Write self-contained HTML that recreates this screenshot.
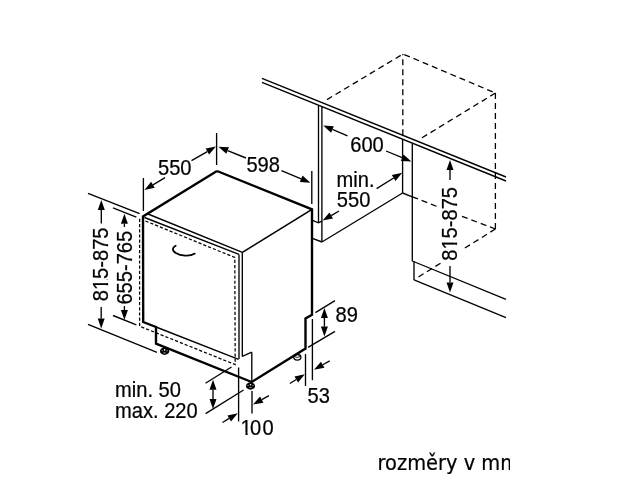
<!DOCTYPE html>
<html><head><meta charset="utf-8"><title>rozměry v mm</title>
<style>html,body{margin:0;padding:0;background:#fff}svg{display:block}</style></head>
<body><svg width="630" height="481" viewBox="0 0 630 481">
<rect width="630" height="481" fill="#fff"/>
<g opacity="0.999">
<line x1="148" y1="214" x2="242.4" y2="252.4" stroke="#000" stroke-width="1.35" stroke-linecap="butt"/>
<line x1="144.5" y1="217.5" x2="239" y2="254.4" stroke="#000" stroke-width="1.35" stroke-linecap="butt"/>
<line x1="312" y1="209.4" x2="242.4" y2="252.4" stroke="#000" stroke-width="1.6500000000000001" stroke-linecap="butt"/>
<line x1="239" y1="254.4" x2="239" y2="359" stroke="#000" stroke-width="1.35" stroke-linecap="butt"/>
<line x1="242.3" y1="252.4" x2="242.3" y2="356.4" stroke="#000" stroke-width="1.35" stroke-linecap="butt"/>
<polyline points="145.5,221.0 234.8,257.5 235.2,364.6 139.6,326.2 139.6,218" fill="none" stroke="#000" stroke-width="1.25" stroke-linejoin="miter" stroke-linecap="butt" stroke-dasharray="3.2 2"/>
<line x1="156" y1="327" x2="238.6" y2="359.4" stroke="#000" stroke-width="1.35" stroke-linecap="butt"/>
<line x1="242.3" y1="356.4" x2="251.8" y2="352.2" stroke="#000" stroke-width="1.35" stroke-linecap="butt"/>
<line x1="251.8" y1="352.2" x2="251.8" y2="382" stroke="#000" stroke-width="1.35" stroke-linecap="butt"/>
<ellipse cx="164.6" cy="351.2" rx="4.6" ry="3.7" fill="#000"/>
<circle cx="164.6" cy="349.9" r="0.8" fill="#fff"/>
<circle cx="162.1" cy="350.7" r="0.5" fill="#fff"/>
<circle cx="167.1" cy="350.7" r="0.5" fill="#fff"/>
<ellipse cx="164.6" cy="352.9" rx="1.8" ry="0.3" fill="#fff"/>
<ellipse cx="250.5" cy="386" rx="4.6" ry="3.7" fill="#000"/>
<circle cx="250.5" cy="384.7" r="0.8" fill="#fff"/>
<circle cx="248.0" cy="385.5" r="0.5" fill="#fff"/>
<circle cx="253.0" cy="385.5" r="0.5" fill="#fff"/>
<ellipse cx="250.5" cy="387.7" rx="1.8" ry="0.3" fill="#fff"/>
<ellipse cx="297.3" cy="357.3" rx="3.6" ry="2.8" fill="#fff" stroke="#000" stroke-width="1.3"/>
<path d="M294.4,356.6 Q297.3,358.4 300.3,356.4" fill="none" stroke="#000" stroke-width="0.9"/>
<polyline points="217,171 143,216.5 143.2,322 156,327 156,343.6 251.7,382 305.5,348.6 305.5,318.4 312,314.8 312,209.4 217,171" fill="none" stroke="#000" stroke-width="2.4" stroke-linejoin="miter" stroke-linecap="butt"/>
<path d="M175.7,245.7 C172.2,247.4 171.6,250.4 175.8,253 C180.6,256 189.6,256.9 194.8,253.6" fill="none" stroke="#000" stroke-width="1.75" stroke-linecap="round"/>
<line x1="143.4" y1="178" x2="143.4" y2="211" stroke="#000" stroke-width="1.35" stroke-linecap="butt"/>
<line x1="216.6" y1="133" x2="216.6" y2="165" stroke="#000" stroke-width="1.35" stroke-linecap="butt"/>
<polygon points="144.40,190.00 151.16,181.84 154.77,187.84" fill="#000"/>
<line x1="165" y1="177.6" x2="152.97" y2="184.84" stroke="#000" stroke-width="1.35" stroke-linecap="butt"/>
<polygon points="216.00,146.60 209.05,154.60 205.58,148.52" fill="#000"/>
<line x1="191.5" y1="160.6" x2="207.32" y2="151.56" stroke="#000" stroke-width="1.35" stroke-linecap="butt"/>
<text transform="translate(158 174.6) scale(0.932 1)" font-family="&quot;Liberation Sans&quot;, Arial, sans-serif" font-size="21.6" text-anchor="start" fill="#000" stroke="#000" stroke-width="0.25">550</text>
<line x1="311.8" y1="171" x2="311.8" y2="204" stroke="#000" stroke-width="1.35" stroke-linecap="butt"/>
<polygon points="218.40,146.80 228.98,147.32 226.35,153.80" fill="#000"/>
<line x1="246" y1="158" x2="227.67" y2="150.56" stroke="#000" stroke-width="1.35" stroke-linecap="butt"/>
<polygon points="310.40,182.70 299.82,182.08 302.52,175.62" fill="#000"/>
<line x1="281.4" y1="170.6" x2="301.17" y2="178.85" stroke="#000" stroke-width="1.35" stroke-linecap="butt"/>
<text transform="translate(246.4 172) scale(0.932 1)" font-family="&quot;Liberation Sans&quot;, Arial, sans-serif" font-size="21.6" text-anchor="start" fill="#000" stroke="#000" stroke-width="0.25">598</text>
<line x1="88" y1="193.3" x2="139.6" y2="213.7" stroke="#000" stroke-width="1.35" stroke-linecap="butt"/>
<line x1="113" y1="207.9" x2="136.3" y2="217.2" stroke="#000" stroke-width="1.35" stroke-linecap="butt"/>
<line x1="88" y1="324.4" x2="157" y2="352.4" stroke="#000" stroke-width="1.35" stroke-linecap="butt"/>
<line x1="113" y1="315.5" x2="136.4" y2="324.9" stroke="#000" stroke-width="1.35" stroke-linecap="butt"/>
<polygon points="101.30,200.00 104.80,210.00 97.80,210.00" fill="#000"/>
<line x1="101.3" y1="223.6" x2="101.3" y2="210.0" stroke="#000" stroke-width="1.35" stroke-linecap="butt"/>
<polygon points="101.20,328.60 97.70,318.60 104.70,318.60" fill="#000"/>
<line x1="101.2" y1="307" x2="101.2" y2="318.6" stroke="#000" stroke-width="1.35" stroke-linecap="butt"/>
<polygon points="124.40,213.80 127.90,223.80 120.90,223.80" fill="#000"/>
<line x1="124.4" y1="227" x2="124.4" y2="223.8" stroke="#000" stroke-width="1.35" stroke-linecap="butt"/>
<polygon points="124.40,320.00 120.90,310.00 127.90,310.00" fill="#000"/>
<line x1="124.4" y1="306" x2="124.4" y2="310.0" stroke="#000" stroke-width="1.35" stroke-linecap="butt"/>
<text transform="translate(107.9 301.3) rotate(-90) scale(0.932 1)" font-family="&quot;Liberation Sans&quot;, Arial, sans-serif" font-size="21.6" text-anchor="start" fill="#000" stroke="#000" stroke-width="0.25">815-875</text>
<rect transform="translate(107.9 301.3) rotate(-90) scale(0.932 1)" x="12.57" y="-2.71" width="4.62" height="3.91" fill="#fff"/>
<rect transform="translate(107.9 301.3) rotate(-90) scale(0.932 1)" x="19.57" y="-2.71" width="3.72" height="3.91" fill="#fff"/>
<text transform="translate(132.3 304.6) rotate(-90) scale(0.932 1)" font-family="&quot;Liberation Sans&quot;, Arial, sans-serif" font-size="21.6" text-anchor="start" fill="#000" stroke="#000" stroke-width="0.25">655-765</text>
<line x1="205.5" y1="383.2" x2="231.5" y2="367" stroke="#000" stroke-width="1.35" stroke-linecap="butt"/>
<line x1="205.6" y1="413.6" x2="243.6" y2="390" stroke="#000" stroke-width="1.35" stroke-linecap="butt"/>
<polygon points="213.00,379.80 216.50,389.80 209.50,389.80" fill="#000"/>
<polygon points="213.00,409.00 209.50,399.00 216.50,399.00" fill="#000"/>
<line x1="213.0" y1="389.8" x2="213.0" y2="399.0" stroke="#000" stroke-width="1.35" stroke-linecap="butt"/>
<text transform="translate(115 397.4) scale(0.932 1)" font-family="&quot;Liberation Sans&quot;, Arial, sans-serif" font-size="21.6" text-anchor="start" fill="#000" stroke="#000" stroke-width="0.25">min. 50</text>
<text transform="translate(115 417.6) scale(0.932 1)" font-family="&quot;Liberation Sans&quot;, Arial, sans-serif" font-size="21.6" text-anchor="start" fill="#000" stroke="#000" stroke-width="0.25">max. 220</text>
<line x1="238.6" y1="367.5" x2="238.6" y2="421.4" stroke="#000" stroke-width="1.35" stroke-linecap="butt"/>
<line x1="252" y1="391" x2="252" y2="413.6" stroke="#000" stroke-width="1.35" stroke-linecap="butt"/>
<polygon points="237.80,413.30 231.03,421.45 227.43,415.45" fill="#000"/>
<line x1="222.5" y1="422.5" x2="229.23" y2="418.45" stroke="#000" stroke-width="1.35" stroke-linecap="butt"/>
<polygon points="253.00,404.50 260.04,396.58 263.44,402.70" fill="#000"/>
<line x1="269" y1="395.6" x2="261.74" y2="399.64" stroke="#000" stroke-width="1.35" stroke-linecap="butt"/>
<text transform="translate(240.6 435.2) scale(0.932 1)" font-family="&quot;Liberation Sans&quot;, Arial, sans-serif" font-size="21.6" text-anchor="start" fill="#000" stroke="#000" stroke-width="0.25" dx="0 -1.8 1.4">100</text>
<rect transform="translate(240.6 435.2) scale(0.932 1)" x="0.56" y="-2.71" width="4.62" height="3.91" fill="#fff"/>
<rect transform="translate(240.6 435.2) scale(0.932 1)" x="7.56" y="-2.71" width="3.72" height="3.91" fill="#fff"/>
<line x1="305.5" y1="354" x2="305.5" y2="386" stroke="#000" stroke-width="1.35" stroke-linecap="butt"/>
<line x1="312.4" y1="319" x2="312.4" y2="380.2" stroke="#000" stroke-width="1.35" stroke-linecap="butt"/>
<polygon points="304.80,374.30 298.11,382.51 294.45,376.54" fill="#000"/>
<line x1="289.8" y1="383.5" x2="296.28" y2="379.53" stroke="#000" stroke-width="1.35" stroke-linecap="butt"/>
<polygon points="314.00,369.70 320.97,361.72 324.43,367.81" fill="#000"/>
<line x1="329.7" y1="360.8" x2="322.7" y2="364.77" stroke="#000" stroke-width="1.35" stroke-linecap="butt"/>
<text transform="translate(307.6 403) scale(0.932 1)" font-family="&quot;Liberation Sans&quot;, Arial, sans-serif" font-size="21.6" text-anchor="start" fill="#000" stroke="#000" stroke-width="0.25">53</text>
<line x1="315.4" y1="312.6" x2="335" y2="300.6" stroke="#000" stroke-width="1.35" stroke-linecap="butt"/>
<line x1="308" y1="347.4" x2="335" y2="331.4" stroke="#000" stroke-width="1.35" stroke-linecap="butt"/>
<polygon points="324.40,308.00 327.90,318.00 320.90,318.00" fill="#000"/>
<polygon points="324.40,336.60 320.90,326.60 327.90,326.60" fill="#000"/>
<line x1="324.4" y1="318.0" x2="324.4" y2="326.6" stroke="#000" stroke-width="1.35" stroke-linecap="butt"/>
<text transform="translate(335.5 321.6) scale(0.932 1)" font-family="&quot;Liberation Sans&quot;, Arial, sans-serif" font-size="21.6" text-anchor="start" fill="#000" stroke="#000" stroke-width="0.25">89</text>
<line x1="262" y1="78.4" x2="506" y2="177" stroke="#000" stroke-width="1.35" stroke-linecap="butt"/>
<line x1="262" y1="82.4" x2="506" y2="181" stroke="#000" stroke-width="1.35" stroke-linecap="butt"/>
<line x1="318.5" y1="106" x2="318.5" y2="222.8" stroke="#000" stroke-width="1.35" stroke-linecap="butt"/>
<line x1="321.9" y1="107" x2="321.9" y2="242" stroke="#000" stroke-width="1.35" stroke-linecap="butt"/>
<polyline points="312.5,220.3 318.5,222.8 321.9,221.2" fill="none" stroke="#000" stroke-width="1.35" stroke-linejoin="miter" stroke-linecap="butt"/>
<line x1="312.5" y1="238.3" x2="321.9" y2="242" stroke="#000" stroke-width="1.35" stroke-linecap="butt"/>
<line x1="321.9" y1="242" x2="402.6" y2="193" stroke="#000" stroke-width="1.35" stroke-linecap="butt"/>
<line x1="402.6" y1="139.4" x2="402.6" y2="193" stroke="#000" stroke-width="1.35" stroke-linecap="butt"/>
<line x1="402.6" y1="193" x2="412.3" y2="196.8" stroke="#000" stroke-width="1.35" stroke-linecap="butt"/>
<line x1="412.3" y1="144" x2="412.3" y2="261.3" stroke="#000" stroke-width="1.35" stroke-linecap="butt"/>
<line x1="414" y1="261.6" x2="414" y2="279.9" stroke="#000" stroke-width="1.35" stroke-linecap="butt"/>
<line x1="412.3" y1="261" x2="506" y2="299.4" stroke="#000" stroke-width="1.35" stroke-linecap="butt"/>
<line x1="414" y1="279.8" x2="506" y2="317.6" stroke="#000" stroke-width="1.35" stroke-linecap="butt"/>
<polyline points="327,99.6 403,54 495.4,93" fill="none" stroke="#000" stroke-width="1.3" stroke-linejoin="miter" stroke-linecap="butt" stroke-dasharray="6 4"/>
<line x1="402.8" y1="135.2" x2="402.8" y2="54" stroke="#000" stroke-width="1.3" stroke-linecap="butt" stroke-dasharray="6 4"/>
<line x1="495.4" y1="93" x2="495.4" y2="229" stroke="#000" stroke-width="1.3" stroke-linecap="butt" stroke-dasharray="6 4"/>
<line x1="495.4" y1="93" x2="421" y2="138.4" stroke="#000" stroke-width="1.3" stroke-linecap="butt" stroke-dasharray="6 4"/>
<line x1="412.3" y1="196.8" x2="440" y2="207.6" stroke="#000" stroke-width="1.3" stroke-linecap="butt" stroke-dasharray="6 4"/>
<line x1="462" y1="216.3" x2="495.4" y2="229" stroke="#000" stroke-width="1.3" stroke-linecap="butt" stroke-dasharray="6 4"/>
<line x1="495.4" y1="229" x2="463.5" y2="248.9" stroke="#000" stroke-width="1.3" stroke-linecap="butt" stroke-dasharray="6 4"/>
<line x1="440.5" y1="263.2" x2="416.5" y2="278.2" stroke="#000" stroke-width="1.3" stroke-linecap="butt" stroke-dasharray="6 4"/>
<polygon points="411.40,161.50 400.82,160.91 403.50,154.45" fill="#000"/>
<line x1="386" y1="151" x2="402.16" y2="157.68" stroke="#000" stroke-width="1.35" stroke-linecap="butt"/>
<polygon points="323.20,125.60 333.78,126.24 331.07,132.70" fill="#000"/>
<line x1="347.5" y1="135.8" x2="332.42" y2="129.47" stroke="#000" stroke-width="1.35" stroke-linecap="butt"/>
<text transform="translate(350.2 152) scale(0.932 1)" font-family="&quot;Liberation Sans&quot;, Arial, sans-serif" font-size="21.6" text-anchor="start" fill="#000" stroke="#000" stroke-width="0.25">600</text>
<text transform="translate(336.6 186.8) scale(0.932 1)" font-family="&quot;Liberation Sans&quot;, Arial, sans-serif" font-size="21.6" text-anchor="start" fill="#000" stroke="#000" stroke-width="0.25">min.</text>
<text transform="translate(336.8 206.9) scale(0.932 1)" font-family="&quot;Liberation Sans&quot;, Arial, sans-serif" font-size="21.6" text-anchor="start" fill="#000" stroke="#000" stroke-width="0.25">550</text>
<polygon points="402.20,172.80 395.53,181.03 391.85,175.07" fill="#000"/>
<line x1="376.6" y1="188.6" x2="393.69" y2="178.05" stroke="#000" stroke-width="1.35" stroke-linecap="butt"/>
<polygon points="322.60,220.60 329.46,212.53 333.00,218.57" fill="#000"/>
<line x1="339" y1="211" x2="331.23" y2="215.55" stroke="#000" stroke-width="1.35" stroke-linecap="butt"/>
<polygon points="450.00,160.00 453.50,170.00 446.50,170.00" fill="#000"/>
<line x1="450" y1="180" x2="450.0" y2="170.0" stroke="#000" stroke-width="1.35" stroke-linecap="butt"/>
<polygon points="450.00,292.50 446.50,282.50 453.50,282.50" fill="#000"/>
<line x1="450" y1="266" x2="450.0" y2="282.5" stroke="#000" stroke-width="1.35" stroke-linecap="butt"/>
<text transform="translate(456.8 260.8) rotate(-90) scale(0.932 1)" font-family="&quot;Liberation Sans&quot;, Arial, sans-serif" font-size="21.6" text-anchor="start" fill="#000" stroke="#000" stroke-width="0.25">815-875</text>
<rect transform="translate(456.8 260.8) rotate(-90) scale(0.932 1)" x="12.57" y="-2.71" width="4.62" height="3.91" fill="#fff"/>
<rect transform="translate(456.8 260.8) rotate(-90) scale(0.932 1)" x="19.57" y="-2.71" width="3.72" height="3.91" fill="#fff"/>
<clipPath id="c"><rect x="0" y="440" width="509.6" height="41"/></clipPath>
<g clip-path="url(#c)">
<text transform="translate(377.5 469.5) scale(0.925 1)" font-family="&quot;DejaVu Sans&quot;, Verdana, sans-serif" font-size="21" text-anchor="start" fill="#000" stroke="#000" stroke-width="0.25">rozměry v mm</text>
</g>
</g>
</svg></body></html>
